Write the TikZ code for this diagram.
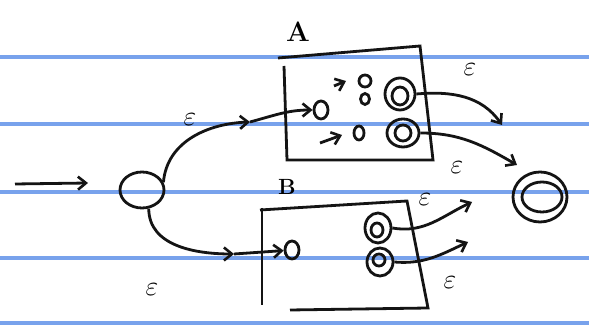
\documentclass[tikz,border=0pt]{standalone}
\usepackage{amsmath}
\usetikzlibrary{positioning,shapes.geometric,arrows.meta}
\definecolor{PaperRule}{HTML}{78A2EC}
\definecolor{PenInk}{HTML}{141414}
\newcommand{\epsl}{\scalebox{1.6}{$\varepsilon$}}

\begin{document}
\begin{tikzpicture}[x=1pt, y=1pt, line width=2.8pt, draw=PenInk,
    state/.style={ellipse, draw=PenInk, line width=2.8pt, inner sep=0pt},
    pen/.style={-{Straight Barb[length=8pt,width=13pt,line width=2.6pt]}, line width=2.8pt},
    rule/.style={PaperRule, line width=3.4pt},
    eps/.style={font=\LARGE, inner sep=0pt}]
  \useasboundingbox[fill=white] (0,0) rectangle (589,328);
  % ruled paper
  \foreach \yy in {271,204,136,70,5} \draw[rule] (0,\yy) -- (589,\yy);

  % start state and input
  \node[state, minimum width=44pt, minimum height=36pt] (s) at (142,138) {};
  \coordinate (in0) at (15,144);
  \coordinate (in1) at (88,145);
  \draw[pen] (in0) -- (in1);

  % box A
  \draw (278,270) -- (420,282) -- (433,168) -- (287,168) -- (284,262);
  \node[font=\fontsize{28}{28}\selectfont\bfseries] (labA) at (298,296) {A};
  \node[state, minimum width=14pt, minimum height=18pt] (a0) at (321,218) {};
  \node[state, minimum width=12pt, minimum height=12pt] (a1) at (365,247) {};
  \node[state, minimum width=9pt, minimum height=11pt] (a2) at (365,229) {};
  \node[state, minimum width=10pt, minimum height=14pt] (a3) at (359,195) {};
  \node[state, minimum width=30pt, minimum height=32pt] (a4) at (400,234) {};
  \node[state, minimum width=16pt, minimum height=18pt] (a4in) at (400,232) {};
  \node[state, minimum width=32pt, minimum height=28pt] (a5) at (403,195) {};
  \node[state, minimum width=16pt, minimum height=16pt] (a5in) at (403,195) {};
  \coordinate (ma0) at (334,242);
  \coordinate (ma1) at (346,247);
  \draw[pen] (ma0) -- (ma1);
  \coordinate (mb0) at (320,185);
  \coordinate (mb1) at (342,193);
  \draw[pen] (mb0) -- (mb1);

  % box B
  \draw (260,118) -- (407,127) -- (428,20) -- (290,18);
  \draw (262,120) -- (262,23);
  \node[font=\fontsize{22}{22}\selectfont\bfseries] (labB) at (287,141) {B};
  \node[state, minimum width=14pt, minimum height=18pt] (b0) at (292,78) {};
  \node[state, minimum width=26pt, minimum height=30pt] (b1) at (378,100) {};
  \node[state, minimum width=12pt, minimum height=14pt] (b1in) at (377,98) {};
  \node[state, minimum width=26pt, minimum height=28pt] (b2) at (380,66) {};
  \node[state, minimum width=12pt, minimum height=12pt] (b2in) at (379,68) {};

  % final state
  \node[state, minimum width=54pt, minimum height=50pt] (f) at (540,131) {};
  \node[state, minimum width=40pt, minimum height=30pt] (fin) at (542,131) {};

  % epsilon moves into A and B
  \coordinate (ea) at (250,206);
  \draw[pen] (s.20) to[out=85,in=182] (ea);
  \draw[pen] (ea) to[out=15,in=180] (a0);
  \node[eps] (e1) at (190,208) {\epsl};
  \coordinate (eb) at (234,74);
  \draw[pen] (s.-70) to[out=-90,in=180] (eb);
  \draw[pen] (eb) -- (b0);
  \node[eps] (e2) at (152,38) {\epsl};

  % epsilon moves out of A
  \coordinate (oa1) at (502,203);
  \draw[pen] (a4.east) to[out=5,in=125] (oa1);
  \node[eps] (e3) at (470,258) {\epsl};
  \coordinate (oa2) at (517,163);
  \draw[pen] (a5.east) to[out=0,in=150] (oa2);
  \node[eps] (e4) at (457,160) {\epsl};

  % epsilon moves out of B
  \coordinate (ob1) at (472,126);
  \draw[pen] (b1.east) to[out=-10,in=205] (ob1);
  \node[eps] (e5) at (425,128) {\epsl};
  \coordinate (ob2) at (468,86);
  \draw[pen] (b2.east) to[out=-5,in=205] (ob2);
  \node[eps] (e6) at (450,45) {\epsl};
\end{tikzpicture}
\end{document}
